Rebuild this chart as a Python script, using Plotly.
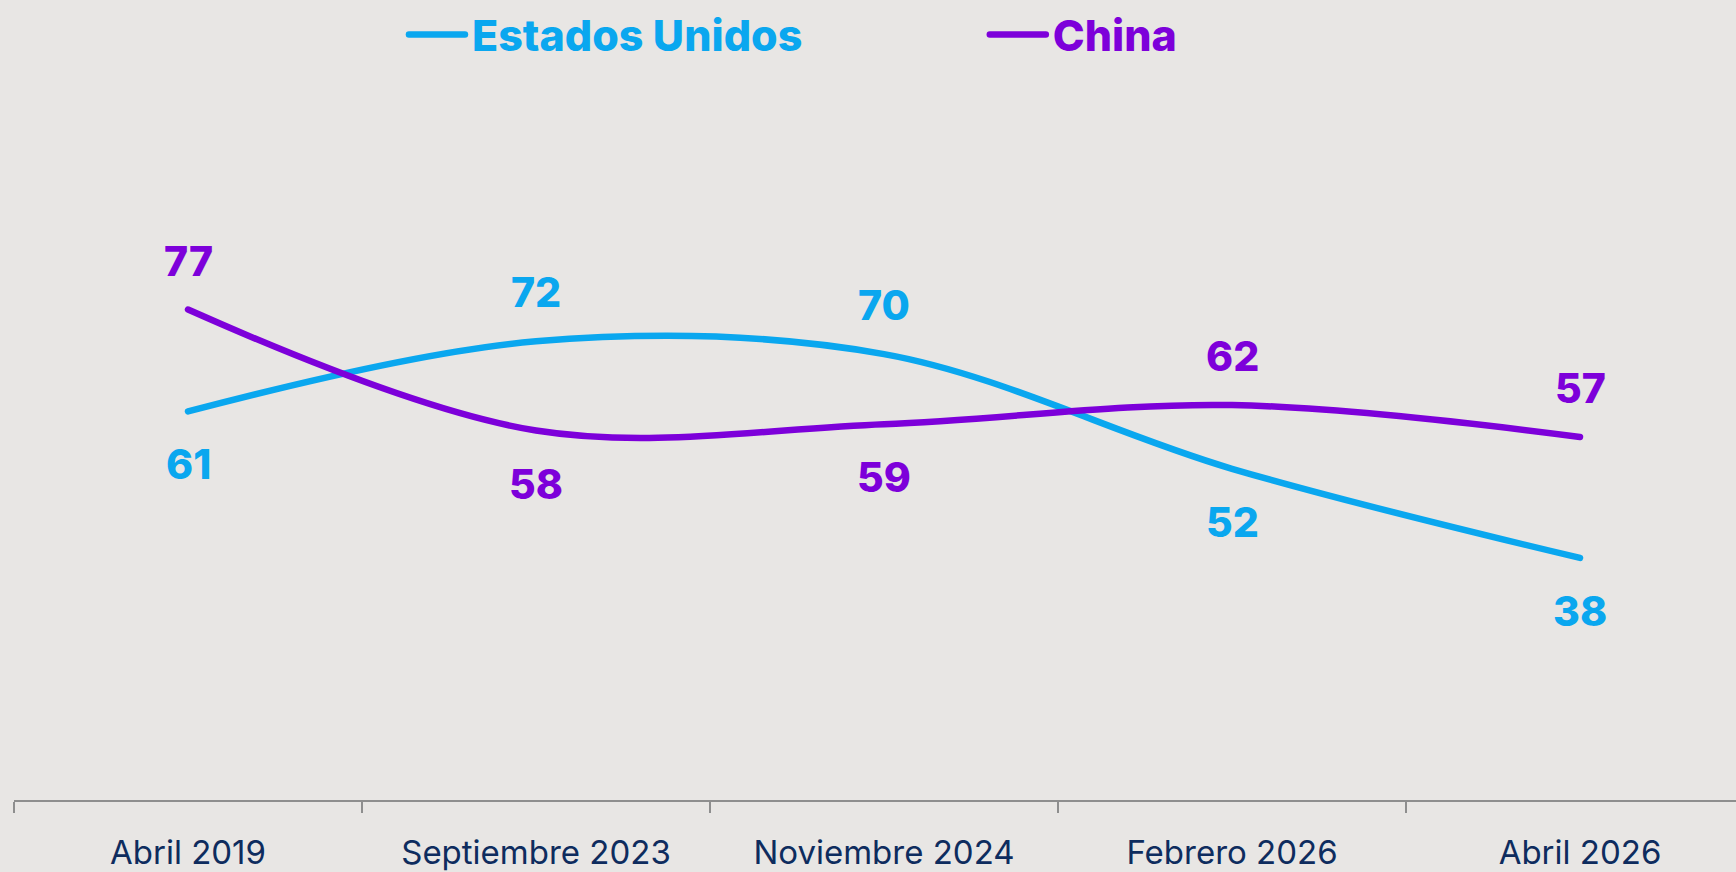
import plotly.graph_objects as go

periodos = ["Abril 2019", "Septiembre 2023", "Noviembre 2024", "Febrero 2026", "Abril 2026"]
estados_unidos = [61, 72, 70, 52, 38]
china = [77, 58, 59, 62, 57]

AZUL = "#0AA7EF"
MORADO = "#7D00DA"
FONDO = "#E8E6E4"
NAVY = "#0E2C5E"

fig = go.Figure()
fig.add_trace(go.Scatter(x=periodos, y=estados_unidos, name="Estados Unidos", mode="lines",
                         legend="legend",
                         line=dict(color=AZUL, width=6.5, shape="spline", smoothing=1)))
fig.add_trace(go.Scatter(x=periodos, y=china, name="China", mode="lines",
                         legend="legend2",
                         line=dict(color=MORADO, width=6.5, shape="spline", smoothing=1)))

# data labels: the higher series sits above its line, the lower one below
for serie, otra, color in [(estados_unidos, china, AZUL), (china, estados_unidos, MORADO)]:
    for p, v, o in zip(periodos, serie, otra):
        fig.add_annotation(x=p, y=v, text=str(v), showarrow=False,
                           yanchor="middle", yshift=49 if v >= o else -53,
                           font=dict(family="Inter", size=41, color=color, weight=800))

legend_common = dict(orientation="h", y=1.202, xanchor="left", yanchor="middle",
                     itemwidth=60, bgcolor="rgba(0,0,0,0)")

fig.update_layout(
    width=1736, height=872,
    paper_bgcolor=FONDO, plot_bgcolor=FONDO,
    margin=dict(l=14, r=0, t=162, b=65),
    showlegend=True,
    legend=dict(x=0.2253, font=dict(family="Inter", size=43, weight=800, color=AZUL), **legend_common),
    legend2=dict(x=0.5626, font=dict(family="Inter", size=43, weight=800, color=MORADO), **legend_common),
    xaxis=dict(type="category", range=[-0.5, -0.5 + 1722 / 348], showgrid=False,
               showline=True, linecolor="#8E8E8E", linewidth=2,
               ticks="outside", tickson="boundaries", ticklen=11, tickwidth=2, tickcolor="#8E8E8E",
               tickfont=dict(family="Inter", size=33, color=NAVY), ticklabelstandoff=22),
    yaxis=dict(range=[0, 100], visible=False, showgrid=False, zeroline=False),
)

post = """
document.body.style.margin = '0';
document.body.style.overflow = 'hidden';
document.querySelectorAll('.scatterlayer path.js-line').forEach(function(p) {
    p.style.strokeLinecap = 'round';
});
document.querySelectorAll('.legendlines path').forEach(function(p) {
    p.setAttribute('d', 'M7,0h56');
    p.style.strokeLinecap = 'round';
});
"""

fig.write_html("out.html", post_script=post, config={"displayModeBar": False})
